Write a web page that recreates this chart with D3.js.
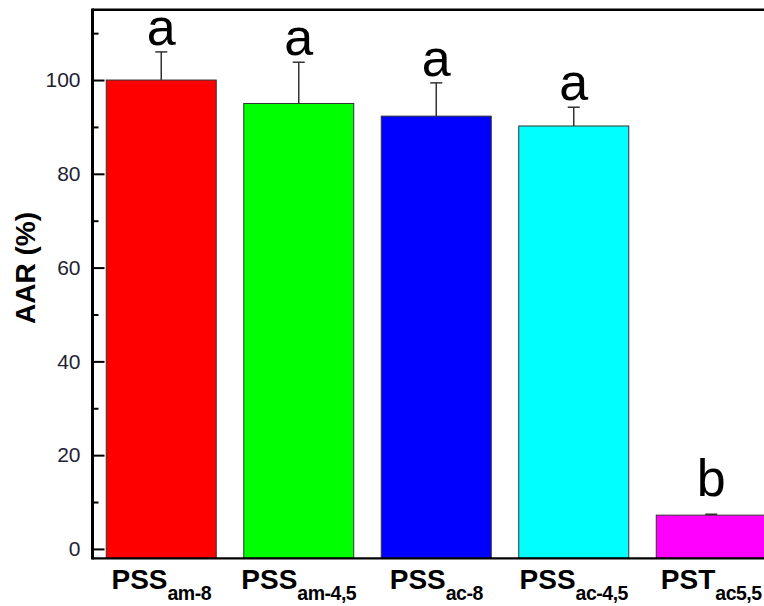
<!DOCTYPE html>
<html>
<head>
<meta charset="utf-8">
<script src="https://cdn.jsdelivr.net/npm/d3@7"></script>
<style>
html,body{margin:0;padding:0;background:#fff;}
svg{display:block;}
</style>
</head>
<body>
<svg id="chart" width="764" height="606"></svg>
<script>
const categories = ["am-8", "am-4,5", "ac-8", "ac-4,5", "ac5,5"];
const labelMain = ["PSS", "PSS", "PSS", "PSS", "PST"];
const values = [100, 95.0, 92.3, 90.2, 7.2];
const errors = [6.0, 8.8, 7.1, 4.0, 0.2];
const letters = ["a", "a", "a", "a", "b"];
const colors = ["#ff0000", "#00ff00", "#0000ff", "#00ffff", "#ff00ff"];
const majorTicks = [0, 20, 40, 60, 80, 100];
const minorTicks = [10, 30, 50, 70, 90, 110];

(function () {
const font = "Arial, 'Liberation Sans', Helvetica, sans-serif";
const svg = d3.select("#chart");
const pLeft = 92.5, pRight = 780, pTop = 9.7, pBottom = 558.3;

const x = d3.scaleBand().domain(categories).range([pLeft, pRight]).paddingInner(0.2).paddingOuter(0.1);
const y = d3.scaleLinear().domain([-2, 115]).range([pBottom, pTop]);

// bars
svg.append("g").selectAll("rect").data(categories).join("rect")
  .attr("x", d => x(d))
  .attr("y", (d, i) => y(values[i]))
  .attr("width", x.bandwidth())
  .attr("height", (d, i) => y(-2) - y(values[i]))
  .attr("fill", (d, i) => colors[i])
  .attr("stroke", "#333")
  .attr("stroke-width", 1);

// error bars (upper)
const eg = svg.append("g").attr("stroke", "#333").attr("stroke-width", 1.5);
categories.forEach((c, i) => {
  const cx = x(c) + x.bandwidth() / 2;
  eg.append("line").attr("x1", cx).attr("x2", cx).attr("y1", y(values[i])).attr("y2", y(values[i] + errors[i]));
  eg.append("line").attr("x1", cx - 6).attr("x2", cx + 6).attr("y1", y(values[i] + errors[i])).attr("y2", y(values[i] + errors[i]));
});

// letters
svg.append("g").selectAll("text").data(categories).join("text")
  .attr("x", d => x(d) + x.bandwidth() / 2)
  .attr("y", (d, i) => y(values[i] + errors[i]) - (letters[i] === "b" ? 18 : 7))
  .attr("text-anchor", "middle")
  .attr("font-family", font)
  .attr("font-size", 52)
  .attr("fill", "#000")
  .text((d, i) => letters[i]);

// y axis major
const yAxis = svg.append("g").attr("transform", `translate(${pLeft},0)`)
  .call(d3.axisLeft(y).tickValues(majorTicks).tickSize(-12).tickPadding(12));
yAxis.select(".domain").remove();
yAxis.selectAll(".tick line").attr("stroke", "#000").attr("stroke-width", 2);
yAxis.selectAll(".tick text").attr("font-family", font).attr("font-size", 21).attr("fill", "#1e2233");

const yMinor = svg.append("g").attr("transform", `translate(${pLeft},0)`)
  .call(d3.axisLeft(y).tickValues(minorTicks).tickSize(-6).tickFormat(""));
yMinor.select(".domain").remove();
yMinor.selectAll(".tick line").attr("stroke", "#000").attr("stroke-width", 2);

// frame lines
svg.append("line").attr("x1", pLeft).attr("x2", 764).attr("y1", pTop).attr("y2", pTop).attr("stroke", "#000").attr("stroke-width", 2.5);
svg.append("line").attr("x1", pLeft).attr("x2", 764).attr("y1", pBottom).attr("y2", pBottom).attr("stroke", "#000").attr("stroke-width", 2.2);
svg.append("line").attr("x1", pLeft).attr("x2", pLeft).attr("y1", pTop - 1.2).attr("y2", pBottom + 1.1).attr("stroke", "#000").attr("stroke-width", 3);

// x labels
const xl = svg.append("g").selectAll("text").data(categories).join("text")
  .attr("x", d => x(d) + x.bandwidth() / 2)
  .attr("y", 589)
  .attr("text-anchor", "middle")
  .attr("font-family", font)
  .attr("font-weight", "bold")
  .attr("fill", "#000");
xl.append("tspan").attr("font-size", 28).text((d, i) => labelMain[i]);
xl.append("tspan").attr("font-size", 19.5).attr("dy", 11).attr("letter-spacing", -0.5).text(d => d);

// y title
svg.append("text")
  .attr("transform", `translate(35,${(pTop + pBottom) / 2 - 16}) rotate(-90)`)
  .attr("text-anchor", "middle")
  .attr("font-family", font)
  .attr("font-weight", "bold")
  .attr("font-size", 28)
  .attr("fill", "#000")
  .text("AAR (%)");
})();
</script>
</body>
</html>
